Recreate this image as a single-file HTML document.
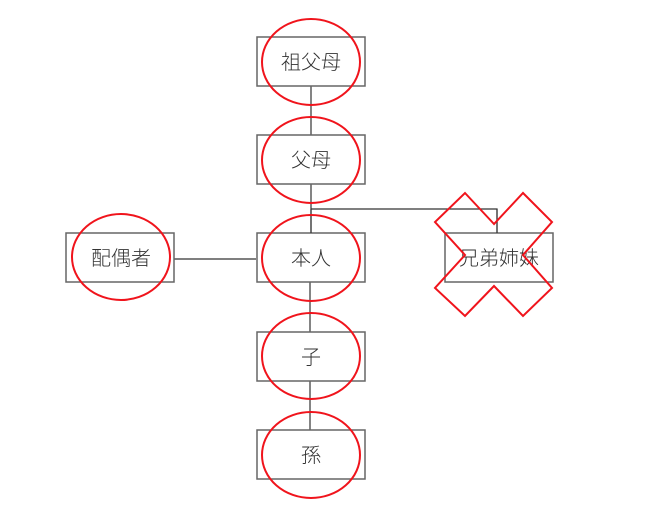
<!DOCTYPE html>
<html><head><meta charset="utf-8"><style>
html,body{margin:0;padding:0;background:#fff;}
svg{display:block;}
text{font-family:"Liberation Sans","Noto Sans CJK JP",sans-serif;font-size:20px;font-weight:300;fill:#333;}
</style></head><body>
<svg width="660" height="521" viewBox="0 0 660 521">
<g stroke="#333" stroke-width="1.2" fill="none">
<line x1="311" y1="86" x2="311" y2="135"/>
<line x1="311" y1="184" x2="311" y2="233"/>
<polyline points="311,209 497,209 497,233"/>
<line x1="174" y1="259" x2="256" y2="259"/>
<line x1="310" y1="282" x2="310" y2="332"/>
<line x1="310" y1="381" x2="310" y2="430"/>
</g>
<g stroke="#666" stroke-width="1.5" fill="#fff">
<rect x="257" y="37" width="108" height="49"/>
<rect x="257" y="135" width="108" height="49"/>
<rect x="257" y="233" width="108" height="49"/>
<rect x="257" y="332" width="108" height="49"/>
<rect x="257" y="430" width="108" height="49"/>
<rect x="66" y="233" width="108" height="49"/>
<rect x="445" y="233" width="108" height="49"/>
</g>
<line x1="311" y1="209" x2="311" y2="233" stroke="#333" stroke-width="1.2"/>
<line x1="497" y1="209" x2="497" y2="233" stroke="#333" stroke-width="1.2"/>
<g text-anchor="middle">
<text x="311" y="69">祖父母</text>
<text x="311" y="167">父母</text>
<text x="311" y="265">本人</text>
<text x="311" y="364">子</text>
<text x="311" y="462">孫</text>
<text x="121" y="265">配偶者</text>
<text x="499" y="265">兄弟姉妹</text>
</g>
<g stroke="#f0141c" stroke-width="2" fill="none">
<ellipse cx="311" cy="62" rx="49" ry="43"/>
<ellipse cx="311" cy="160" rx="49" ry="43"/>
<ellipse cx="311" cy="258" rx="49" ry="43"/>
<ellipse cx="311" cy="356" rx="49" ry="43"/>
<ellipse cx="311" cy="455" rx="49" ry="43"/>
<ellipse cx="121" cy="257" rx="49" ry="43"/>
<polygon points="494,224 465,193 435,222 465,255 435,288 465,316 494,286 523,316 552,288 523,255 552,222 523,193"/>
</g>
</svg>
</body></html>
